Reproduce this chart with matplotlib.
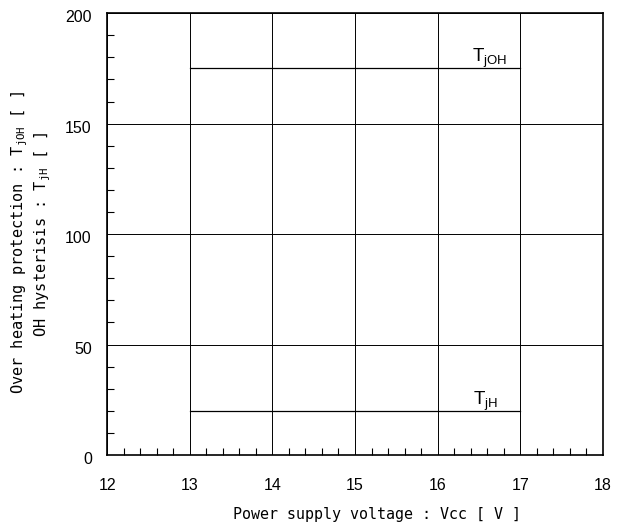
import matplotlib
matplotlib.use('Agg')
from matplotlib import pyplot as plt
from matplotlib.ticker import MultipleLocator
from matplotlib.transforms import ScaledTranslation

# supply voltage range of the curves
vcc = [13, 17]
# over heating protection and hysterisis (deg C)
tj_oh = [175, 175]
tj_h = [20, 20]

x_ticks = [12, 13, 14, 15, 16, 17, 18]
y_ticks = [0, 50, 100, 150, 200]

fig = plt.figure(figsize=(6.3, 5.26), dpi=100)
ax = fig.add_axes([0.170, 0.135, 0.787, 0.840])

ax.plot(vcc, tj_oh, color='black', lw=0.9)
ax.plot(vcc, tj_h, color='black', lw=0.9)

ax.text(16.84, tj_oh[0] + 2.8, r'T$\mathregular{_{jOH}}$', ha='right', va='baseline',
        fontsize=13.5, family='Liberation Sans')
ax.text(16.73, tj_h[0] + 2.6, r'T$\mathregular{_{jH}}$', ha='right', va='baseline',
        fontsize=13.5, family='Liberation Sans')

ax.set_xlim(12, 18)
ax.set_ylim(0, 200)
ax.set_xticks(x_ticks)
ax.set_yticks(y_ticks)
ax.xaxis.set_minor_locator(MultipleLocator(0.2))
ax.yaxis.set_minor_locator(MultipleLocator(10))
ax.grid(True, which='major', color='black', lw=0.7)
ax.tick_params(which='both', direction='in', top=False, right=False)
ax.tick_params(which='major', length=0, labelsize=11.5)
ax.tick_params(axis='x', which='major', pad=16.5)
ax.tick_params(axis='y', which='major', pad=11)
ax.tick_params(which='minor', length=5, width=0.8)
shift = ScaledTranslation(0, -3 / 100, fig.dpi_scale_trans)
for lab in ax.get_yticklabels():
    lab.set_transform(lab.get_transform() + shift)
for lab in ax.get_xticklabels() + ax.get_yticklabels():
    lab.set_family('Liberation Sans')
for s in ax.spines.values():
    s.set_linewidth(1.2)

fig.text(377 / 630, 1 - 515 / 526, 'Power supply voltage : Vcc [ V ]',
         ha='center', va='center', family='DejaVu Sans Mono', fontsize=10.8)
fig.text(20 / 630, 1 - 242 / 526, 'Over heating protection : T$\\mathregular{_{jOH}}$ [ ]',
         rotation=90, ha='center', va='center', family='DejaVu Sans Mono', fontsize=11)
fig.text(43 / 630, 1 - 235 / 526, 'OH hysterisis : T$\\mathregular{_{jH}}$ [ ]',
         rotation=90, ha='center', va='center', family='DejaVu Sans Mono', fontsize=11)

fig.savefig('out.png', dpi=100)
